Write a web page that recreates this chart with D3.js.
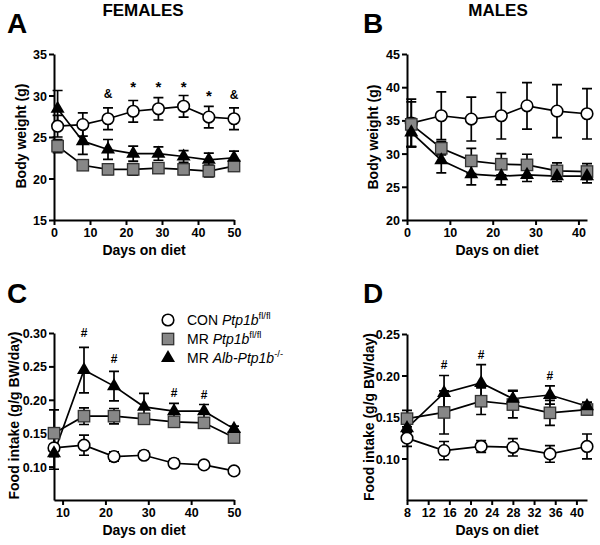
<!DOCTYPE html>
<html>
<head>
<meta charset="utf-8">
<script src="https://cdn.jsdelivr.net/npm/d3@7"></script>
<style>
	body { margin: 0; background: #fff; }
	svg { font-family: "Liberation Sans", Arial, sans-serif; }
	.axis path, .axis line { stroke: #000; stroke-width: 2; }
	.axis text { font-size: 12.5px; font-weight: bold; fill: #000; }
	.lab { font-size: 14px; font-weight: bold; }
</style>
</head>
<body>
<script>
// --- data ---------------------------------------------------------------

// A: female body weight
const daysA = [1, 8, 15, 22, 29, 36, 43, 50];
const conA = [26.3, 26.5, 27.2, 28.1, 28.4, 28.7, 27.4, 27.2];
const conAErr = [1.3, 1.4, 1.3, 1.3, 1.35, 1.3, 1.3, 1.3];
const mrA = [23.9, 21.6, 21.1, 21.1, 21.25, 21.1, 20.9, 21.5];
const mrAErr = [0.8, 0.5, 0.6, 0.7, 0.6, 0.6, 0.7, 0.6];
const koA = [28.4, 24.5, 23.5, 23.0, 23.0, 22.65, 22.25, 22.5];
const koAErr = [2.2, 1.6, 1.2, 0.9, 0.8, 0.7, 0.8, 0.8];
const notesA = [[15, 30.2, "&"], [22, 31.5, "*"], [29, 31.6, "*"], [36, 31.6, "*"], [43, 30.5, "*"], [50, 30.15, "&"]];

// B: male body weight
const daysB = [1, 8, 15, 22, 28, 35, 42];
const conB = [34.6, 35.7, 35.2, 35.7, 37.2, 36.4, 36.0];
const conBErr = [3.6, 3.6, 3.3, 3.5, 3.5, 4.0, 3.8];
const mrB = [34.4, 30.8, 28.9, 28.4, 28.3, 27.4, 27.3];
const mrBErr = [3.4, 1.0, 1.9, 1.6, 1.6, 1.2, 1.2];
const koB = [33.2, 29.0, 26.9, 26.6, 26.8, 26.6, 26.6];
const koBErr = [2.1, 1.9, 1.6, 1.3, 1.0, 0.8, 1.0];

// C: female food intake
const daysC = [8, 15, 22, 29, 36, 43, 50];
const conC = [0.128, 0.132, 0.115, 0.117, 0.105, 0.1025, 0.0935];
const conCErr = [0.005, 0.015, 0.007, 0.006, 0.006, 0.003, 0.002];
const mrC = [0.150, 0.1755, 0.1755, 0.1715, 0.167, 0.1655, 0.1435];
const mrCErr = [0.035, 0.0125, 0.0115, 0.006, 0.006, 0.006, 0.005];
const koC = [0.120, 0.2445, 0.2205, 0.1895, 0.183, 0.183, 0.1565];
const koCErr = [0.024, 0.034, 0.022, 0.02, 0.0115, 0.01, 0.004];
const notesC = [[15, 0.300, "#"], [22, 0.261, "#"], [36, 0.2113, "#"], [43, 0.2077, "#"]];

// D: male food intake
const daysD = [8, 15, 22, 28, 35, 42];
const conD = [0.1245, 0.1095, 0.1145, 0.1135, 0.1055, 0.1145];
const conDErr = [0.01, 0.011, 0.007, 0.0105, 0.01, 0.015];
const mrD = [0.148, 0.1555, 0.169, 0.165, 0.155, 0.159];
const mrDErr = [0.01, 0.026, 0.016, 0.016, 0.015, 0.006];
const koD = [0.1365, 0.179, 0.191, 0.172, 0.1765, 0.163];
const koDErr = [0.005, 0.021, 0.022, 0.01, 0.011, 0.005];
const notesD = [[15, 0.2127, "#"], [22, 0.2247, "#"], [35, 0.1994, "#"]];

// legend
const legendNames = [["CON ", "Ptp1b", "fl/fl"], ["MR ", "Ptp1b", "fl/fl"], ["MR ", "Alb-Ptp1b", "-/-"]];

// ------------------------------------------------------------------------

const svg = d3.select("body").append("svg")
	.attr("width", 600)
	.attr("height", 545);

const squareFill = "#878787";

function drawMarker(g, kind, x, y) {
	if (kind === "circle") {
		g.append("circle")
			.attr("cx", x).attr("cy", y).attr("r", 5.8)
			.attr("fill", "#fff").attr("stroke", "#000").attr("stroke-width", 1.6);
	}
	else if (kind === "square") {
		g.append("rect")
			.attr("x", x - 5.7).attr("y", y - 5.7)
			.attr("width", 11.4).attr("height", 11.4)
			.attr("fill", squareFill).attr("stroke", "#333").attr("stroke-width", 1.3);
	}
	else {
		g.append("path")
			.attr("transform", `translate(${x},${y})`)
			.attr("d", d3.symbol(d3.symbolTriangle, 85)())
			.attr("fill", "#000");
	}
}

function panel(p) {
	const x = d3.scaleLinear().domain(p.xDomain).range([p.left, p.right]);
	const y = d3.scaleLinear().domain(p.yDomain).range([p.bottom, p.top]);

	svg.append("g")
		.attr("class", "axis")
		.attr("transform", `translate(0,${p.bottom})`)
		.call(d3.axisBottom(x).tickValues(p.xTicks).tickSize(5).tickPadding(3).tickSizeOuter(0));

	const yAxis = svg.append("g")
		.attr("class", "axis")
		.attr("transform", `translate(${p.left},0)`)
		.call(d3.axisLeft(y).tickValues(p.yTicks).tickFormat(p.yFormat).tickSize(5).tickPadding(2).tickSizeOuter(0));
	yAxis.selectAll("text").attr("dy", "0.36em");

	svg.append("text")
		.attr("class", "lab")
		.attr("x", (p.left + p.right) / 2)
		.attr("y", p.bottom + 35)
		.attr("text-anchor", "middle")
		.text("Days on diet");

	svg.append("text")
		.attr("class", "lab")
		.attr("transform", `translate(${p.yLabelX},${(p.top + p.bottom) / 2 + p.yLabelShift}) rotate(-90)`)
		.attr("text-anchor", "middle")
		.text(p.yLabel);

	svg.append("text")
		.attr("x", p.letterX).attr("y", p.letterY)
		.attr("font-size", 28).attr("font-weight", "bold")
		.text(p.letter);

	if (p.title) {
		svg.append("text")
			.attr("x", (p.left + p.right) / 2 + p.titleShift).attr("y", 16)
			.attr("text-anchor", "middle")
			.attr("font-size", 17).attr("font-weight", "bold")
			.text(p.title);
	}

	const line = d3.line().x(d => x(d[0])).y(d => y(d[1]));
	const g = svg.append("g");

	p.series.forEach(s => {
		const pts = p.days.map((d, i) => [d, s.values[i], s.err[i]]);

		g.append("path")
			.datum(pts)
			.attr("d", line)
			.attr("fill", "none")
			.attr("stroke", "#000")
			.attr("stroke-width", 1.7);

		pts.forEach(d => {
			const cx = x(d[0]);
			const y0 = y(d[1] - d[2]), y1 = y(d[1] + d[2]);
			g.append("path")
				.attr("d", `M${cx},${y0}V${y1}M${cx - 5},${y0}H${cx + 5}M${cx - 5},${y1}H${cx + 5}`)
				.attr("fill", "none")
				.attr("stroke", "#000")
				.attr("stroke-width", 1.7);
		});
	});

	p.series.forEach(s => {
		p.days.forEach((d, i) => drawMarker(g, s.kind, x(d), y(s.values[i])));
	});

	(p.notes || []).forEach(n => {
		svg.append("text")
			.attr("x", x(n[0]))
			.attr("y", y(n[1]))
			.attr("dy", n[2] === "*" ? "0.62em" : "0.36em")
			.attr("text-anchor", "middle")
			.attr("font-size", n[2] === "*" ? 15 : 12)
			.attr("font-weight", "bold")
			.text(n[2]);
	});
}

panel({
	letter: "A", letterX: 7, letterY: 33, title: "FEMALES", titleShift: -1,
	left: 54, right: 234, top: 54, bottom: 220,
	xDomain: [0, 50], xTicks: [0, 10, 20, 30, 40, 50],
	yDomain: [15, 35], yTicks: [15, 20, 25, 30, 35], yFormat: d3.format("d"),
	yLabel: "Body weight (g)", yLabelX: 26, yLabelShift: -1,
	days: daysA,
	series: [
		{ kind: "circle", values: conA, err: conAErr },
		{ kind: "square", values: mrA, err: mrAErr },
		{ kind: "triangle", values: koA, err: koAErr }
	],
	notes: notesA
});

panel({
	letter: "B", letterX: 363, letterY: 33, title: "MALES", titleShift: 1,
	left: 407, right: 587, top: 54, bottom: 220,
	xDomain: [0, 42], xTicks: [0, 10, 20, 30, 40],
	yDomain: [20, 45], yTicks: [20, 25, 30, 35, 40, 45], yFormat: d3.format("d"),
	yLabel: "Body weight (g)", yLabelX: 378, yLabelShift: 0,
	days: daysB,
	series: [
		{ kind: "circle", values: conB, err: conBErr },
		{ kind: "square", values: mrB, err: mrBErr },
		{ kind: "triangle", values: koB, err: koBErr }
	]
});

panel({
	letter: "C", letterX: 7, letterY: 303,
	left: 54, right: 234, top: 333, bottom: 500,
	xDomain: [8, 50], xTicks: [10, 20, 30, 40, 50],
	yDomain: [0.05, 0.30], yTicks: [0.10, 0.15, 0.20, 0.25, 0.30], yFormat: d3.format(".2f"),
	yLabel: "Food intake (g/g BW/day)", yLabelX: 19, yLabelShift: -1,
	days: daysC,
	series: [
		{ kind: "circle", values: conC, err: conCErr },
		{ kind: "square", values: mrC, err: mrCErr },
		{ kind: "triangle", values: koC, err: koCErr }
	],
	notes: notesC
});

panel({
	letter: "D", letterX: 363, letterY: 303,
	left: 407, right: 587, top: 334, bottom: 500,
	xDomain: [8, 42], xTicks: [8, 12, 16, 20, 24, 28, 32, 36, 40],
	yDomain: [0.05, 0.25], yTicks: [0.10, 0.15, 0.20, 0.25], yFormat: d3.format(".2f"),
	yLabel: "Food intake (g/g BW/day)", yLabelX: 374, yLabelShift: 0,
	days: daysD,
	series: [
		{ kind: "circle", values: conD, err: conDErr },
		{ kind: "square", values: mrD, err: mrDErr },
		{ kind: "triangle", values: koD, err: koDErr }
	],
	notes: notesD
});

// legend (panel C)
const legend = svg.append("g");
const legendKinds = ["circle", "square", "triangle"];
const legendY = [320, 339, 358];

legendNames.forEach((n, i) => {
	drawMarker(legend, legendKinds[i], 168, legendY[i]);
	const t = legend.append("text")
		.attr("x", 187)
		.attr("y", legendY[i] + 5)
		.attr("font-size", 14);
	t.append("tspan").text(n[0]);
	t.append("tspan").attr("font-style", "italic").text(n[1]);
	t.append("tspan").attr("font-size", 9.5).attr("dy", -6).text(n[2]);
});
</script>
</body>
</html>
